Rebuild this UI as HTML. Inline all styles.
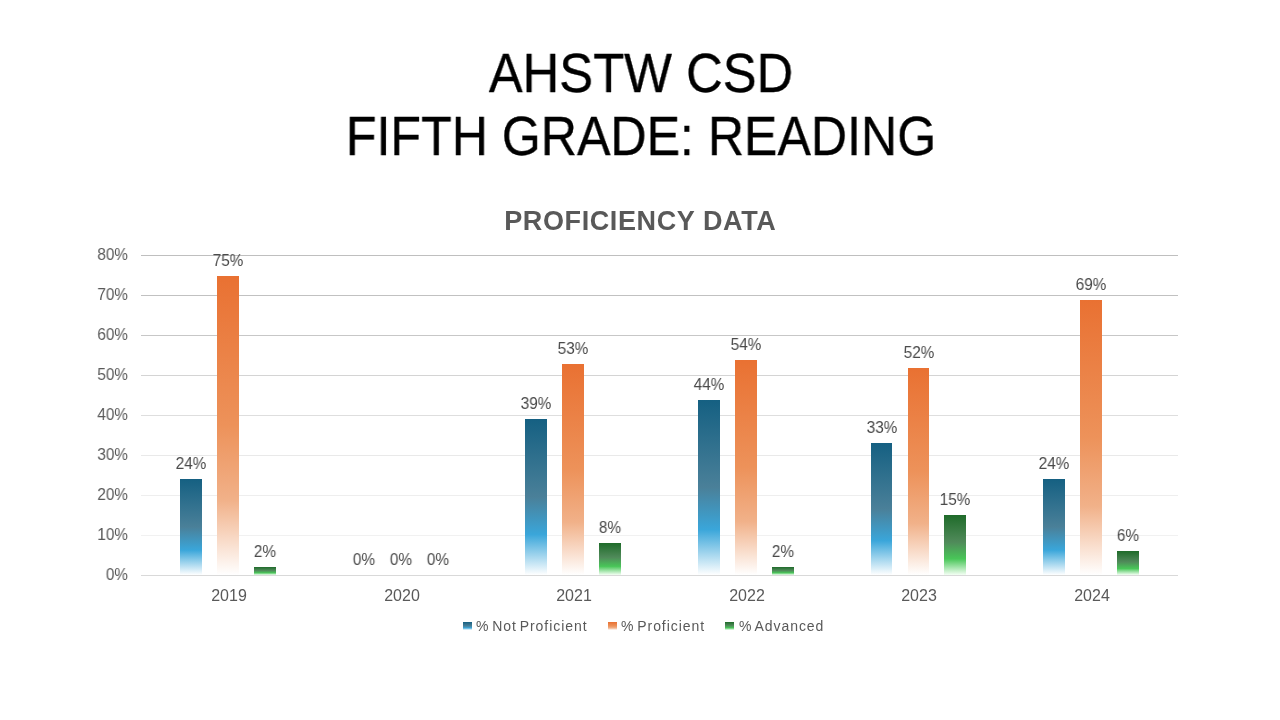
<!DOCTYPE html>
<html><head><meta charset="utf-8">
<style>
html,body{margin:0;padding:0;background:#fff;}
body{width:1280px;height:720px;position:relative;overflow:hidden;font-family:"Liberation Sans",sans-serif;}
.t,.st,.yl,.xl,.dl,.lg{will-change:transform;}
.t{position:absolute;left:0;width:1280px;text-align:center;color:#000;font-size:56px;line-height:62px;white-space:nowrap;-webkit-text-stroke:0.35px #000;}
.st{position:absolute;left:0;width:1280px;text-align:center;color:#595959;font-size:27px;font-weight:bold;line-height:30px;white-space:nowrap;letter-spacing:0.6px;text-indent:0.6px;}
.gl{position:absolute;left:141px;width:1037px;height:1px;}
.yl{position:absolute;left:61px;width:67px;text-align:right;color:#595959;font-size:16.5px;line-height:18px;transform:scaleX(0.93);transform-origin:right center;}
.xl{position:absolute;top:587px;width:80px;text-align:center;color:#595959;font-size:16px;line-height:18px;}
.bar{position:absolute;width:22px;}
.dl{position:absolute;width:60px;text-align:center;color:#4a4a4a;font-size:16.5px;line-height:18px;transform:scaleX(0.93);}
.lg{position:absolute;top:618px;color:#595959;font-size:14px;line-height:16px;white-space:nowrap;letter-spacing:0.95px;word-spacing:-2px;}
.sq{position:absolute;top:622px;width:9px;height:8px;}
</style></head><body>
<div class="t" id="t1" style="top:42px;left:1px;transform:scaleX(0.906)">AHSTW CSD</div>
<div class="t" id="t2" style="top:105px;left:1px;transform:scaleX(0.895)">FIFTH GRADE: READING</div>
<div class="st" id="st" style="top:206px">PROFICIENCY DATA</div>
<div class="gl" style="top:575.0px;background:#d9d9d9"></div>
<div class="yl" style="top:565.4px">0%</div>
<div class="gl" style="top:535.0px;background:#f1f1f1"></div>
<div class="yl" style="top:525.4px">10%</div>
<div class="gl" style="top:495.0px;background:#eeeeee"></div>
<div class="yl" style="top:485.4px">20%</div>
<div class="gl" style="top:455.0px;background:#e9e9e9"></div>
<div class="yl" style="top:445.4px">30%</div>
<div class="gl" style="top:415.0px;background:#dedede"></div>
<div class="yl" style="top:405.4px">40%</div>
<div class="gl" style="top:375.0px;background:#d4d4d4"></div>
<div class="yl" style="top:365.4px">50%</div>
<div class="gl" style="top:335.0px;background:#c7c7c7"></div>
<div class="yl" style="top:325.4px">60%</div>
<div class="gl" style="top:295.0px;background:#c1c1c1"></div>
<div class="yl" style="top:285.4px">70%</div>
<div class="gl" style="top:255.0px;background:#bfbfbf"></div>
<div class="yl" style="top:245.4px">80%</div>
<div class="xl" style="left:189.0px">2019</div>
<div class="bar" style="left:180px;width:22px;top:479px;height:96px;background:linear-gradient(to bottom,#156082 0%,#4a8099 50%,#3aa6da 74%,#ffffff 100%)"></div>
<div class="dl" style="left:161.0px;top:454.0px">24%</div>
<div class="bar" style="left:217px;width:22px;top:276px;height:299px;background:linear-gradient(to bottom,#e97132 0%,#ed925a 50%,#f1b189 75%,#ffffff 100%)"></div>
<div class="dl" style="left:198.0px;top:251.0px">75%</div>
<div class="bar" style="left:254px;width:22px;top:567px;height:8px;background:linear-gradient(to bottom,#1f6b2a 0%,#508a5a 45%,#48c658 73%,#f4fff4 100%)"></div>
<div class="dl" style="left:235.0px;top:542.0px">2%</div>
<div class="xl" style="left:361.6px">2020</div>
<div class="dl" style="left:334.0px;top:550.0px">0%</div>
<div class="dl" style="left:371.0px;top:550.0px">0%</div>
<div class="dl" style="left:408.0px;top:550.0px">0%</div>
<div class="xl" style="left:534.2px">2021</div>
<div class="bar" style="left:525px;width:22px;top:419px;height:156px;background:linear-gradient(to bottom,#156082 0%,#4a8099 50%,#3aa6da 74%,#ffffff 100%)"></div>
<div class="dl" style="left:506.0px;top:394.0px">39%</div>
<div class="bar" style="left:562px;width:22px;top:364px;height:211px;background:linear-gradient(to bottom,#e97132 0%,#ed925a 50%,#f1b189 75%,#ffffff 100%)"></div>
<div class="dl" style="left:543.0px;top:339.0px">53%</div>
<div class="bar" style="left:599px;width:22px;top:543px;height:32px;background:linear-gradient(to bottom,#1f6b2a 0%,#508a5a 45%,#48c658 73%,#f4fff4 100%)"></div>
<div class="dl" style="left:580.0px;top:518.0px">8%</div>
<div class="xl" style="left:706.8px">2022</div>
<div class="bar" style="left:698px;width:22px;top:400px;height:175px;background:linear-gradient(to bottom,#156082 0%,#4a8099 50%,#3aa6da 74%,#ffffff 100%)"></div>
<div class="dl" style="left:679.0px;top:375.0px">44%</div>
<div class="bar" style="left:735px;width:22px;top:360px;height:215px;background:linear-gradient(to bottom,#e97132 0%,#ed925a 50%,#f1b189 75%,#ffffff 100%)"></div>
<div class="dl" style="left:716.0px;top:335.0px">54%</div>
<div class="bar" style="left:772px;width:22px;top:567px;height:8px;background:linear-gradient(to bottom,#1f6b2a 0%,#508a5a 45%,#48c658 73%,#f4fff4 100%)"></div>
<div class="dl" style="left:753.0px;top:542.0px">2%</div>
<div class="xl" style="left:879.4px">2023</div>
<div class="bar" style="left:871px;width:21px;top:443px;height:132px;background:linear-gradient(to bottom,#156082 0%,#4a8099 50%,#3aa6da 74%,#ffffff 100%)"></div>
<div class="dl" style="left:851.5px;top:418.0px">33%</div>
<div class="bar" style="left:908px;width:21px;top:368px;height:207px;background:linear-gradient(to bottom,#e97132 0%,#ed925a 50%,#f1b189 75%,#ffffff 100%)"></div>
<div class="dl" style="left:888.5px;top:343.0px">52%</div>
<div class="bar" style="left:944px;width:22px;top:515px;height:60px;background:linear-gradient(to bottom,#1f6b2a 0%,#508a5a 45%,#48c658 73%,#f4fff4 100%)"></div>
<div class="dl" style="left:925.0px;top:490.0px">15%</div>
<div class="xl" style="left:1052.0px">2024</div>
<div class="bar" style="left:1043px;width:22px;top:479px;height:96px;background:linear-gradient(to bottom,#156082 0%,#4a8099 50%,#3aa6da 74%,#ffffff 100%)"></div>
<div class="dl" style="left:1024.0px;top:454.0px">24%</div>
<div class="bar" style="left:1080px;width:22px;top:300px;height:275px;background:linear-gradient(to bottom,#e97132 0%,#ed925a 50%,#f1b189 75%,#ffffff 100%)"></div>
<div class="dl" style="left:1061.0px;top:275.0px">69%</div>
<div class="bar" style="left:1117px;width:22px;top:551px;height:24px;background:linear-gradient(to bottom,#1f6b2a 0%,#508a5a 45%,#48c658 73%,#f4fff4 100%)"></div>
<div class="dl" style="left:1098.0px;top:526.0px">6%</div>
<div class="sq" style="left:463px;background:linear-gradient(to bottom,#156082 0%,#4a8099 50%,#3aa6da 74%,#ffffff 100%)"></div>
<div class="lg" id="lg1" style="left:476px">% Not Proficient</div>
<div class="sq" style="left:608px;background:linear-gradient(to bottom,#e97132 0%,#ed925a 50%,#f1b189 75%,#ffffff 100%)"></div>
<div class="lg" id="lg2" style="left:621px">% Proficient</div>
<div class="sq" style="left:725px;background:linear-gradient(to bottom,#1f6b2a 0%,#508a5a 45%,#48c658 73%,#f4fff4 100%)"></div>
<div class="lg" id="lg3" style="left:739px">% Advanced</div>
</body></html>
